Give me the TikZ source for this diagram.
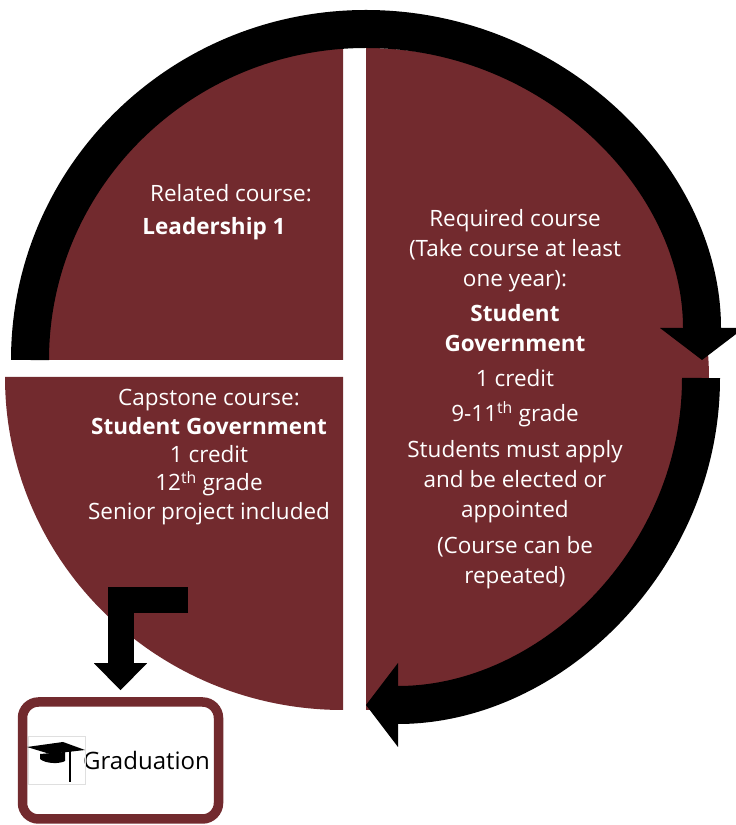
\documentclass[tikz,border=0pt]{standalone}
\usepackage{fontspec}
\setmainfont{Open Sans}
\usetikzlibrary{arrows.meta}
\definecolor{maroon}{RGB}{114,42,46}

\begin{document}
\begin{tikzpicture}[x=1pt,y=1pt]
    \tikzset{
      piece/.style={fill=maroon},
      cyclearrow/.style={line width=38pt,-{Triangle[width=84pt,length=32pt,line width=0pt]}},
      info/.style={text=white,align=center,inner sep=0pt,font=\fontsize{22.5}{30}\selectfont},
      goal/.style={draw=maroon,line width=9.5pt,rounded corners=16pt,fill=white,
        minimum width=196pt,minimum height=117pt}
    }
    \useasboundingbox (0,0) rectangle (736,825);

    % pie pieces
    \fill[piece] (343,465) -- (30,465) arc[start angle=180,end angle=90,x radius=313,y radius=312] -- cycle;
    \fill[piece] (343,448) -- (5,448) arc[start angle=180,end angle=270,x radius=338,y radius=333] -- cycle;
    \fill[piece] (366,777) arc[start angle=90,end angle=-90,x radius=343,y radius=331] -- cycle;

    % arrows round the cycle
    \draw[cyclearrow] (30,465) arc[start angle=180,end angle=0,x radius=336,y radius=331];
    \draw[cyclearrow] (701,447) arc[start angle=0,end angle=-90,x radius=335,y radius=327];

    \node[info,anchor=base] (rel) at (231,623) {Related course:};
    \node[info,anchor=base] (lead) at (214,590) {\textbf{Leadership 1}};
    \node[info] (req) at (515,426) {Required course\\(Take course at least\\one year):\\[5pt]
      \textbf{Student}\\\textbf{Government}\\[5pt]1 credit\\[5pt]9-11\textsuperscript{th} grade\\[6pt]
      Students must apply\\and be elected or\\appointed\\[6pt](Course can be\\repeated)};
    \node[info,font=\fontsize{22.5}{28.3}\selectfont] (cap) at (209,368) {Capstone course:\\
      \textbf{Student Government}\\1 credit\\12\textsuperscript{th} grade\\Senior project included};

    \node[goal] (grad) at (120.5,64.5) {};
    \node[anchor=base west,inner sep=0pt,font=\fontsize{24}{28}\selectfont] (gradtext) at (83,55) {Graduation};

    % mortarboard
    \draw[gray!25,line width=0.6pt] (28,89) rectangle (85,41);
    \fill (27,78) -- (63,83) -- (85,75) -- (50,71) -- cycle;
    \fill (40,71) -- (40,66) .. controls (46,61) and (60,61) .. (65,64) -- (65,73) -- cycle;
    \draw[line width=2.5pt] (70,76) -- (70,43);

    \coordinate (capout) at (188,225);
    \draw[line width=26pt,line join=miter,-{Triangle[width=53pt,length=27pt,line width=0pt]},
      shorten >=7pt] (capout) -| (grad.north);
\end{tikzpicture}
\end{document}
